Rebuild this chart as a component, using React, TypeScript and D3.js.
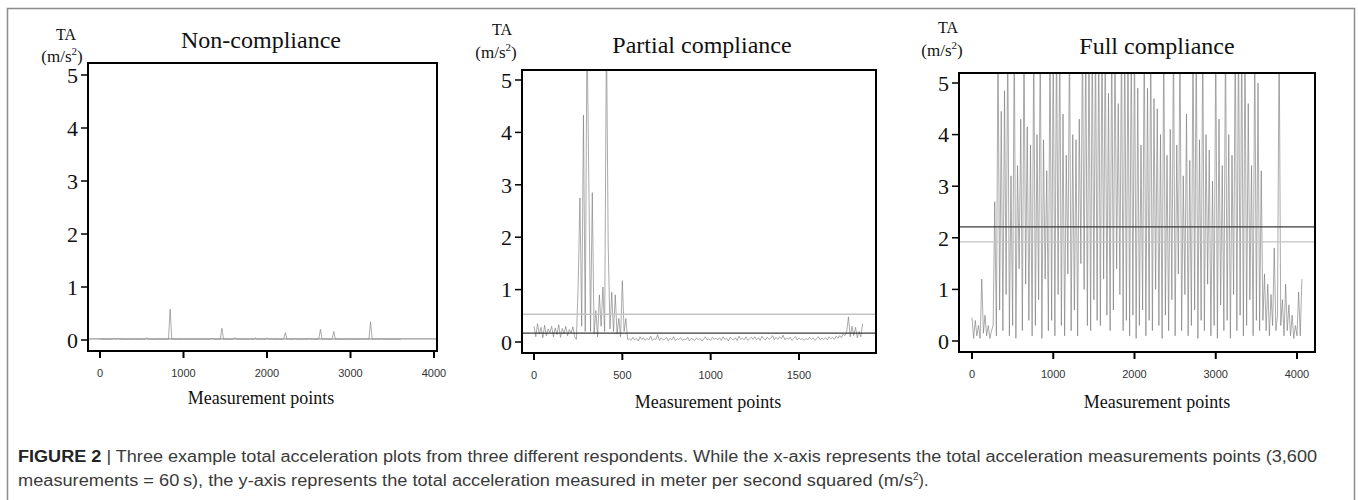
import React, { useEffect, useRef } from 'react';
import * as d3 from 'd3';

const nonStep = 20;
const nonValues = [
  0.01, 0.02, 0.01, 0.02, 0.01, 0.01, 0.02, 0.01, 0.03, 0.02, 0.02, 0.03, 0.02, 0.01, 0.02, 0.01, 0.01, 0.02, 0.01, 0.01,
  0.01, 0.02, 0.01, 0.01, 0.02, 0.01, 0.02, 0.01, 0.04, 0.01, 0.02, 0.01, 0.01, 0.02, 0.01, 0.02, 0.01, 0.02, 0.01, 0.01,
  0.02, 0.01, 0.58, 0.01, 0.02, 0.01, 0.02, 0.01, 0.01, 0.02, 0.01, 0.02, 0.01, 0.01, 0.02, 0.01, 0.02, 0.01, 0.01, 0.02,
  0.01, 0.02, 0.01, 0.02, 0.01, 0.01, 0.02, 0.03, 0.02, 0.01, 0.01, 0.02, 0.01, 0.22, 0.01, 0.02, 0.01, 0.02, 0.01, 0.01,
  0.02, 0.04, 0.01, 0.02, 0.01, 0.02, 0.01, 0.01, 0.02, 0.01, 0.02, 0.01, 0.01, 0.04, 0.01, 0.02, 0.01, 0.02, 0.01, 0.01,
  0.04, 0.01, 0.02, 0.01, 0.02, 0.01, 0.01, 0.02, 0.01, 0.01, 0.02, 0.14, 0.01, 0.02, 0.01, 0.02, 0.01, 0.03, 0.01, 0.02,
  0.01, 0.02, 0.01, 0.02, 0.01, 0.03, 0.02, 0.01, 0.02, 0.01, 0.01, 0.02, 0.2, 0.01, 0.02, 0.01, 0.02, 0.01, 0.01, 0.02,
  0.16, 0.01, 0.02, 0.01, 0.02, 0.01, 0.01, 0.02, 0.01, 0.02, 0.01, 0.02, 0.01, 0.01, 0.02, 0.01, 0.02, 0.01, 0.02, 0.01,
  0.02, 0.01, 0.34, 0.01, 0.02, 0.01, 0.02, 0.01, 0.02, 0.02, 0.01, 0.02, 0.01, 0.01, 0.02, 0.01, 0.02, 0.01, 0.01, 0.02,
  0.01,
];

const partialStep = 10;
const partialValues = [
  // 0-240
  0.3, 0.1, 0.35, 0.15, 0.28, 0.08, 0.32, 0.12, 0.25, 0.18, 0.3, 0.1, 0.27, 0.14, 0.33, 0.09, 0.26, 0.16, 0.3, 0.12,
  0.24, 0.17, 0.29, 0.1, 0.05,
  // 250-530
  1.08, 2.75, 0.3, 4.33, 0.2, 6, 3.15, 0.2, 2.85, 0.15, 0.6, 0.1, 0.9, 0.3, 1.05, 0.2, 6, 1.85, 0.25, 0.95,
  0.2, 0.9, 0.15, 0.45, 0.1, 1.17, 0.2, 0.45, 0.05,
  // 540-1750
  0.06, 0.03, 0.09, 0.04, 0.07, 0.02, 0.1, 0.05, 0.08, 0.03,
  0.07, 0.04, 0.11, 0.03, 0.06, 0.05, 0.14, 0.03, 0.08, 0.04,
  0.05, 0.09, 0.02, 0.07, 0.04, 0.1, 0.03, 0.06, 0.05, 0.08,
  0.03, 0.06, 0.04, 0.09, 0.02, 0.07, 0.05, 0.03, 0.08, 0.04,
  0.07, 0.02, 0.05, 0.1, 0.04, 0.06, 0.03, 0.09, 0.05, 0.07,
  0.04, 0.08, 0.03, 0.1, 0.05, 0.07, 0.02, 0.09, 0.06, 0.04,
  0.08, 0.03, 0.11, 0.05, 0.07, 0.04, 0.1, 0.03, 0.06, 0.09,
  0.05, 0.1, 0.04, 0.08, 0.03, 0.11, 0.06, 0.04, 0.09, 0.05,
  0.07, 0.12, 0.04, 0.09, 0.05, 0.1, 0.06, 0.13, 0.04, 0.08,
  0.05, 0.09, 0.03, 0.07, 0.1, 0.04, 0.08, 0.05, 0.06, 0.03,
  0.07, 0.04, 0.09, 0.05, 0.08, 0.03, 0.06, 0.1, 0.04, 0.07,
  0.05, 0.08, 0.04, 0.1, 0.06, 0.09, 0.05, 0.11, 0.07, 0.12,
  0.08, 0.15,
  // 1760-1860
  0.12, 0.2, 0.48, 0.1, 0.3, 0.12, 0.28, 0.08, 0.2, 0.1, 0.35,
];

const fullStep = 20;
const fullValues = [
  // 0-240
  0.45, 0.05, 0.4, 0.1, 0.3, 0.05, 1.2, 0.15, 0.5, 0.1, 0.3, 0.05, 0.2,
  // 260-1040
  0.3, 2.7, 0.1, 6, 0.6, 4.45, 0.2, 4.85, 0.9, 6, 0.1, 3.2, 0.3, 6, 0.05, 3.4, 1.4, 4.3, 0.2, 6,
  1.1, 4.15, 0.4, 3.8, 0.1, 6, 0.3, 4.0, 0.8, 6, 0.05, 3.9, 1.2, 3.3, 0.2, 6, 0.4, 6, 0.1, 6,
  // 1060-1840
  0.9, 6, 0.3, 4.4, 0.1, 3.6, 1.3, 6, 0.2, 4.0, 0.6, 3.9, 0.1, 4.3, 1.5, 6, 1.0, 6, 0.3, 6,
  0.2, 6, 0.8, 6, 0.4, 6, 0.3, 6, 1.2, 6, 0.5, 4.8, 0.2, 6, 0.6, 6, 1.4, 4.6, 0.9, 6,
  // 1860-2640
  0.2, 6, 0.4, 6, 0.1, 6, 0.5, 6, 0.05, 4.9, 0.3, 3.8, 0.6, 6, 0.1, 4.9, 0.4, 6, 0.2, 4.7,
  1.0, 4.5, 0.3, 4.0, 0.05, 6, 0.5, 3.6, 0.2, 4.1, 0.8, 6, 0.1, 3.8, 1.3, 6, 0.2, 3.2, 0.9, 4.4,
  // 2660-3440
  0.1, 3.5, 0.3, 6, 0.6, 6, 0.05, 3.9, 0.4, 6, 0.2, 4.0, 1.1, 3.7, 0.1, 3.1, 0.3, 6, 0.05, 4.3,
  0.7, 3.4, 0.2, 6, 0.4, 4.0, 0.05, 3.6, 0.9, 6, 0.2, 6, 0.5, 6, 0.1, 6, 0.3, 4.6, 0.8, 3.4,
  // 3460-3560
  0.1, 6, 0.4, 5.0, 0.2, 3.3,
  // 3580-4060
  0.4, 1.3, 0.2, 1.1, 0.1, 0.9, 0.3, 1.8, 0.2, 0.5, 6, 0.3, 0.8, 0.1, 1.1, 0.2, 0.7, 0.1, 0.5, 0.05,
  0.3, 0.1, 0.95, 0.1, 1.2,
];

const panelTitles = ['Non-compliance', 'Partial compliance', 'Full compliance'];
const nonTicks = [0, 1000, 2000, 3000, 4000];
const partialTicks = [0, 500, 1000, 1500];
const fullTicks = [0, 1000, 2000, 3000, 4000];
const yTicks = [0, 1, 2, 3, 4, 5];

// horizontal reference lines (m/s^2)
const nonMean = 0.02;
const partialLight = 0.53;
const partialDark = 0.17;
const fullLight = 1.92;
const fullDark = 2.21;

const captionLine1 =
  ' Three example total acceleration plots from three different respondents. While the x-axis represents the total acceleration measurements points (3,600';
const captionLine2 =
  'measurements = 60\u2009s), the y-axis represents the total acceleration measured in meter per second squared (m/s';

const serif = '"Liberation Serif", "Times New Roman", serif';
const sans = '"Liberation Sans", Arial, sans-serif';

const panels = [
  {
    title: panelTitles[0], values: nonValues, step: nonStep, ticks: nonTicks, xMax: 4000,
    refs: [{ v: nonMean, c: '#9a9a9a' }],
    box: { l: 88, r: 437, t: 63, b: 351 }, xr: [100, 434], yr: [340, 75],
    ta: [66, 40], unit: [62, 62], head: [261, 48], foot: [261, 404],
  },
  {
    title: panelTitles[1], values: partialValues, step: partialStep, ticks: partialTicks, xMax: 1500,
    refs: [{ v: partialLight, c: '#c4c4c4' }, { v: partialDark, c: '#3a3a3a' }],
    box: { l: 522, r: 876, t: 70, b: 353 }, xr: [534, 799], yr: [342, 80],
    ta: [502, 35], unit: [496, 58], head: [702, 53], foot: [708, 408],
  },
  {
    title: panelTitles[2], values: fullValues, step: fullStep, ticks: fullTicks, xMax: 4000,
    refs: [{ v: fullLight, c: '#c4c4c4' }, { v: fullDark, c: '#3a3a3a' }],
    box: { l: 959, r: 1315, t: 73, b: 352 }, xr: [972, 1297], yr: [341, 83],
    ta: [948, 33], unit: [942, 56], head: [1157, 54], foot: [1157, 408],
  },
];

const AccelerationPanels = () => {
  const ref = useRef<SVGSVGElement>(null);

  useEffect(() => {
    const svg = d3.select(ref.current);
    svg.selectAll('*').remove();

    svg.append('rect').attr('width', 1358).attr('height', 500).attr('fill', '#fff');

    // figure frame
    svg.append('rect')
      .attr('x', 7.5).attr('y', 8.5)
      .attr('width', 1347).attr('height', 600)
      .attr('fill', 'none')
      .attr('stroke', '#8c8c8c')
      .attr('stroke-width', 1.5);

    panels.forEach((p, i) => {
      const x = d3.scaleLinear().domain([0, p.xMax]).range(p.xr);
      const y = d3.scaleLinear().domain([0, 5]).range(p.yr);
      const { l, r, t, b } = p.box;
      const g = svg.append('g');

      g.append('clipPath').attr('id', `clip${i}`)
        .append('rect').attr('x', l).attr('y', t).attr('width', r - l).attr('height', b - t);

      const data = p.values.map((v, k) => ({ pt: k * p.step, v }));
      const line = d3.line<{ pt: number; v: number }>()
        .x(d => x(d.pt))
        .y(d => y(d.v));

      g.append('path')
        .datum(data)
        .attr('clip-path', `url(#clip${i})`)
        .attr('fill', 'none')
        .attr('stroke', '#7a7a7a')
        .attr('stroke-opacity', 0.8)
        .attr('stroke-width', 0.8)
        .attr('d', line);

      // reference lines
      p.refs.forEach(rl => {
        g.append('line')
          .attr('x1', l).attr('x2', r)
          .attr('y1', y(rl.v)).attr('y2', y(rl.v))
          .attr('stroke', rl.c)
          .attr('stroke-width', 1.3);
      });

      // plot box
      g.append('rect')
        .attr('x', l).attr('y', t)
        .attr('width', r - l).attr('height', b - t)
        .attr('fill', 'none')
        .attr('stroke', '#000')
        .attr('stroke-width', 2);

      // y axis
      yTicks.forEach(v => {
        g.append('line')
          .attr('x1', l - 7).attr('x2', l)
          .attr('y1', y(v)).attr('y2', y(v))
          .attr('stroke', '#000').attr('stroke-width', 1.5);
        g.append('text')
          .attr('x', l - 10).attr('y', y(v))
          .attr('dy', '0.35em')
          .attr('text-anchor', 'end')
          .style('font-family', serif)
          .style('font-size', '22px')
          .attr('fill', '#111')
          .text(v);
      });

      // x axis
      p.ticks.forEach(v => {
        g.append('line')
          .attr('x1', x(v)).attr('x2', x(v))
          .attr('y1', b).attr('y2', b + 7)
          .attr('stroke', '#000').attr('stroke-width', 2);
        g.append('text')
          .attr('x', x(v)).attr('y', b + 26)
          .attr('text-anchor', 'middle')
          .style('font-family', sans)
          .style('font-size', '11px')
          .attr('fill', '#333')
          .text(v);
      });

      g.append('text')
        .attr('x', p.head[0]).attr('y', p.head[1])
        .attr('text-anchor', 'middle')
        .style('font-family', serif)
        .style('font-size', '24px')
        .attr('fill', '#111')
        .text(p.title);

      g.append('text')
        .attr('x', p.foot[0]).attr('y', p.foot[1])
        .attr('text-anchor', 'middle')
        .style('font-family', serif)
        .style('font-size', '18px')
        .attr('fill', '#111')
        .text('Measurement points');

      g.append('text')
        .attr('x', p.ta[0]).attr('y', p.ta[1])
        .attr('text-anchor', 'middle')
        .style('font-family', serif)
        .style('font-size', '16px')
        .attr('fill', '#111')
        .text('TA');

      const unit = g.append('text')
        .attr('x', p.unit[0]).attr('y', p.unit[1])
        .attr('text-anchor', 'middle')
        .style('font-family', serif)
        .style('font-size', '17px')
        .attr('fill', '#111');
      unit.append('tspan').text('(m/s');
      unit.append('tspan').attr('dy', -7).style('font-size', '11px').text('2');
      unit.append('tspan').attr('dy', 7).text(')');
    });

    // caption
    const capFont = '"Liberation Sans", Arial, sans-serif';
    const cap1 = svg.append('text')
      .attr('x', 18).attr('y', 462)
      .attr('textLength', 1299)
      .attr('lengthAdjust', 'spacingAndGlyphs')
      .style('font-family', capFont)
      .style('font-size', '16px')
      .attr('fill', '#3a3a3a');
    cap1.append('tspan').style('font-weight', 'bold').attr('fill', '#222').text('FIGURE 2');
    cap1.append('tspan').text(' |' + captionLine1);

    const cap2 = svg.append('text')
      .attr('x', 18).attr('y', 486)
      .style('font-family', capFont)
      .style('font-size', '16px')
      .attr('fill', '#3a3a3a');
    cap2.append('tspan')
      .attr('textLength', 895)
      .attr('lengthAdjust', 'spacingAndGlyphs')
      .text(captionLine2);
    cap2.append('tspan').attr('dy', -6).style('font-size', '10px').text('2');
    cap2.append('tspan').attr('dy', 6).text(').');
  }, []);

  return (
    <svg
      ref={ref}
      width={1358}
      height={500}
      style={{ position: 'absolute', left: 0, top: 0, display: 'block' }}
    />
  );
};

export default function App() {
  return <AccelerationPanels />;
}
